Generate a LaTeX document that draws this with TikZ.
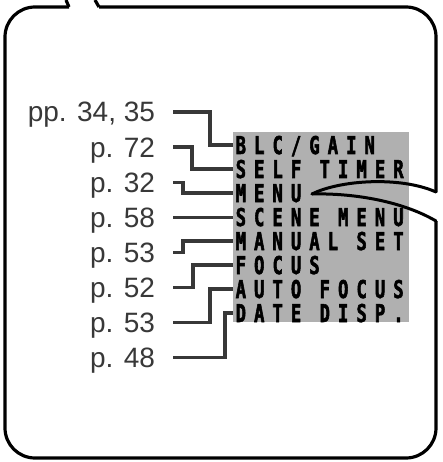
\documentclass[tikz,border=0pt]{standalone}
\usepackage{fontspec}
\setmainfont{Liberation Sans}
\newfontfamily\menufont{DejaVu Sans Mono}[FakeStretch=0.7,LetterSpace=33,FakeBold=2.2]
\usepackage{tikz}
\usetikzlibrary{positioning}

\begin{document}
\begin{tikzpicture}[
  x=1pt, y=-1pt,
  page/.style={anchor=east, inner sep=0pt, outer xsep=18pt, text height=20pt, text depth=0pt, text=black!78, font=\fontsize{28pt}{32pt}\selectfont},
  item/.style={anchor=west, inner xsep=2.5pt, inner ysep=0pt, text height=18pt, text depth=0pt, font=\menufont\bfseries\fontsize{24.5pt}{25pt}\selectfont},
  lead/.style={draw=black!78, line width=3.2pt, line join=miter},
  frame/.style={draw=black, line width=3.2pt},
  tail/.style={draw=black, line width=3pt, line cap=round}
]
\useasboundingbox (0,0) rectangle (442,462);
\fill[black!31] (233,132) rectangle (409,322);
\node[page] (pg1) at (173,112) {pp. 34, 35};
\node[page, below=14.7pt of pg1.south east, anchor=north east] (pg2) {p. 72};
\node[page, below=14.7pt of pg2.south east, anchor=north east] (pg3) {p. 32};
\node[page, below=14.7pt of pg3.south east, anchor=north east] (pg4) {p. 58};
\node[page, below=14.7pt of pg4.south east, anchor=north east] (pg5) {p. 53};
\node[page, below=14.7pt of pg5.south east, anchor=north east] (pg6) {p. 52};
\node[page, below=14.7pt of pg6.south east, anchor=north east] (pg7) {p. 53};
\node[page, below=14.7pt of pg7.south east, anchor=north east] (pg8) {p. 48};
\node[item] (blc) at (233,145) {BLC/GAIN};
\node[item, below=5.6pt of blc.south west, anchor=north west] (timer) {SELF TIMER};
\node[item, below=5.6pt of timer.south west, anchor=north west] (menu) {MENU};
\node[item, below=5.6pt of menu.south west, anchor=north west] (scene) {SCENE MENU};
\node[item, below=5.6pt of scene.south west, anchor=north west] (manual) {MANUAL SET};
\node[item, below=5.6pt of manual.south west, anchor=north west] (focus) {FOCUS};
\node[item, below=5.6pt of focus.south west, anchor=north west] (auto) {AUTO FOCUS};
\node[item, below=5.6pt of auto.south west, anchor=north west] (date) {DATE DISP.};
\draw[lead] (pg1.east) -- ++(37,0) |- (blc.west);
\draw[lead] (pg2.east) -- ++(19,0) |- (timer.west);
\draw[lead] (pg3.east) -- ++(10,0) |- (menu.west);
\draw[lead] (pg4.east) -- (pg4.east -| scene.west);
\draw[lead] (pg5.east) -- ++(10,0) |- (manual.west);
\draw[lead] (pg6.east) -- ++(20,0) |- (focus.west);
\draw[lead] (pg7.east) -- ++(37,0) |- (auto.west);
\draw[lead] (pg8.east) -- ++(52,0) |- (date.west);
\coordinate (tip) at (312,194);
\coordinate (gaptop) at (436,192);
\coordinate (gapbot) at (436,221);
\coordinate (notchl) at (69,7);
\coordinate (notchr) at (99,7);
\draw[frame, rounded corners=30pt] (notchl) -- (5,7) -- (5,458) -- (436,458) -- (gapbot);
\draw[frame, rounded corners=30pt] (gaptop) -- (436,7) -- (notchr);
\draw[frame] (notchl) -- (66,0);
\draw[frame] (notchr) -- (95,0);
\draw[tail] (tip) .. controls (340,180) and (400,176) .. (gaptop);
\draw[tail] (tip) .. controls (350,193) and (400,200) .. (gapbot);
\end{tikzpicture}
\end{document}
